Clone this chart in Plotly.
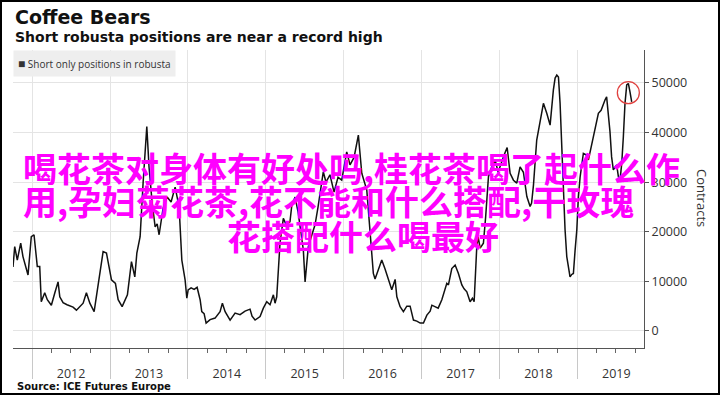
import plotly.graph_objects as go
from datetime import datetime

# ---------------- data ----------------
# decimal year of each observation
t_year = [
    2011.756, 2011.778, 2011.811, 2011.855, 2011.884, 2011.949, 2011.991, 2012.026, 2012.068, 2012.099,
    2012.119, 2012.163, 2012.196, 2012.248, 2012.291, 2012.334, 2012.356, 2012.398, 2012.449, 2012.488,
    2012.526, 2012.569, 2012.612, 2012.655, 2012.697, 2012.741, 2012.796, 2012.847, 2012.911, 2012.954,
    2013.018, 2013.069, 2013.104, 2013.155, 2013.223, 2013.275, 2013.318, 2013.344, 2013.386, 2013.425,
    2013.472, 2013.501, 2013.540, 2013.579, 2013.605, 2013.630, 2013.656, 2013.682, 2013.733, 2013.784,
    2013.836, 2013.887, 2013.922, 2013.964, 2013.986, 2014.003, 2014.041, 2014.080, 2014.118, 2014.157,
    2014.178, 2014.208, 2014.234, 2014.285, 2014.349, 2014.413, 2014.443, 2014.478, 2014.542, 2014.606,
    2014.670, 2014.734, 2014.798, 2014.824, 2014.863, 2014.927, 2014.969, 2015.013, 2015.055, 2015.098,
    2015.119, 2015.141, 2015.183, 2015.226, 2015.260, 2015.311, 2015.333, 2015.376, 2015.415, 2015.453,
    2015.483, 2015.505, 2015.547, 2015.595, 2015.633, 2015.672, 2015.710, 2015.739, 2015.774, 2015.825,
    2015.877, 2015.928, 2015.976, 2016.005, 2016.040, 2016.082, 2016.134, 2016.189, 2016.233, 2016.297,
    2016.339, 2016.381, 2016.403, 2016.445, 2016.489, 2016.531, 2016.574, 2016.617, 2016.660, 2016.682,
    2016.724, 2016.766, 2016.810, 2016.852, 2016.895, 2016.938, 2016.981, 2017.023, 2017.067, 2017.109,
    2017.131, 2017.173, 2017.212, 2017.259, 2017.323, 2017.344, 2017.387, 2017.430, 2017.472, 2017.516,
    2017.545, 2017.580, 2017.622, 2017.652, 2017.674, 2017.708, 2017.725, 2017.751, 2017.793, 2017.822,
    2017.858, 2017.901, 2017.944, 2017.982, 2018.021, 2018.059, 2018.098, 2018.136, 2018.179, 2018.222,
    2018.264, 2018.307, 2018.351, 2018.393, 2018.412, 2018.436, 2018.478, 2018.521, 2018.564, 2018.607,
    2018.650, 2018.692, 2018.714, 2018.736, 2018.757, 2018.778, 2018.800, 2018.820, 2018.842, 2018.864,
    2018.884, 2018.906, 2018.928, 2018.949, 2018.971, 2018.993, 2019.013, 2019.035, 2019.077, 2019.112,
    2019.142, 2019.176, 2019.206, 2019.228, 2019.270, 2019.305, 2019.334, 2019.356, 2019.376, 2019.397,
    2019.419, 2019.440, 2019.462, 2019.505, 2019.527, 2019.548, 2019.570, 2019.591, 2019.612, 2019.634,
    2019.655, 2019.676, 2019.698,
]
# short only positions in robusta (thousand contracts)
short_k = [
    12.9, 17.0, 14.3, 17.7, 15.0, 11.3, 19.0, 19.4, 13.0, 13.0,
    5.9, 7.7, 6.3, 5.2, 7.6, 9.9, 6.9, 5.7, 5.3, 5.0,
    4.8, 4.2, 4.9, 5.6, 7.7, 5.6, 3.9, 8.9, 16.0, 15.7,
    10.3, 9.6, 6.3, 4.9, 7.3, 14.0, 10.9, 15.7, 19.0, 30.0,
    41.2, 33.0, 26.0, 21.0, 21.6, 19.4, 22.4, 24.8, 27.0, 26.0,
    29.0, 25.0, 14.3, 10.3, 6.6, 8.3, 8.7, 8.4, 8.8, 6.3,
    3.9, 3.5, 1.6, 2.3, 2.6, 3.9, 5.6, 3.9, 2.2, 3.6,
    3.3, 4.0, 4.4, 3.0, 2.2, 2.9, 4.6, 5.9, 5.3, 7.3,
    5.6, 6.9, 17.7, 22.7, 21.5, 22.0, 25.1, 27.0, 24.0, 19.0,
    16.3, 9.9, 17.0, 19.5, 21.4, 25.0, 29.0, 32.1, 30.0, 31.5,
    28.0, 31.0, 30.4, 33.0, 36.1, 33.5, 35.0, 39.5, 31.8, 28.4,
    19.7, 11.6, 10.5, 12.3, 14.3, 12.5, 10.3, 8.3, 10.4, 6.9,
    4.9, 3.9, 5.0, 5.0, 2.2, 2.0, 1.6, 1.6, 3.2, 4.0,
    5.2, 4.9, 4.6, 6.3, 9.6, 9.3, 12.6, 13.3, 11.6, 9.3,
    8.5, 7.9, 5.9, 6.6, 5.9, 17.0, 19.0, 16.7, 17.7, 23.0,
    31.1, 33.1, 34.5, 32.0, 34.0, 35.5, 37.0, 31.8, 30.4, 29.8,
    33.1, 32.0, 27.1, 25.1, 25.8, 29.4, 38.5, 42.5, 45.9, 43.9,
    41.5, 48.6, 51.0, 51.6, 51.2, 45.9, 35.8, 27.1, 20.4, 15.0,
    13.0, 10.9, 11.4, 11.6, 16.3, 20.4, 27.0, 31.0, 35.8, 35.5,
    34.5, 37.0, 39.2, 40.5, 43.9, 44.5, 45.9, 46.6, 47.2, 43.9,
    40.2, 35.1, 32.5, 33.5, 31.1, 30.4, 33.8, 39.2, 45.9, 49.6,
    49.9, 48.2, 46.2,
]

title = "Coffee Bears"
subtitle = "Short robusta positions are near a record high"
series_name = "Short only positions in robusta"
source = "Source: ICE Futures Europe"
y_title = "Contracts"
overlay_lines = [
    "喝花茶对身体有好处吗,桂花茶喝了起什么作",
    "用,孕妇菊花茶,花不能和什么搭配,干玫瑰",
    "花搭配什么喝最好",
]

# ---------------- helpers ----------------
def dy(t):
    y = int(t)
    a, b = datetime(y, 1, 1), datetime(y + 1, 1, 1)
    return a + (b - a) * (t - y)

dates = [dy(t) for t in t_year]
values = [v * 1000 for v in short_k]

W, H = 720, 395
L, R, T, B = 13, 76, 50, 47
PW, PH = W - L - R, H - T - B

def px(x):
    return (x - L) / PW

def py(y):
    return (H - B - y) / PH

# highlight circle around the latest peak
last_year = [i for i, t in enumerate(t_year) if t >= 2019.5]
ipk = max(last_year, key=lambda i: values[i])
circle_y = (values[ipk] + values[-1]) / 2

fig = go.Figure()
fig.add_trace(go.Scatter(
    x=dates, y=values, mode="lines",
    line=dict(color="#111111", width=1.5),
    showlegend=False, hoverinfo="skip",
))
fig.add_trace(go.Scatter(
    x=[dates[ipk]], y=[circle_y], mode="markers",
    marker=dict(symbol="circle-open", size=22, color="#e0413f", line=dict(width=1.3, color="#e0413f")),
    showlegend=False, hoverinfo="skip",
))

fig.update_layout(
    width=W, height=H,
    margin=dict(l=L, r=R, t=T, b=B),
    paper_bgcolor="white", plot_bgcolor="white",
    font=dict(family="Open Sans", color="#333333"),
    showlegend=False,
)
fig.update_xaxes(
    type="date",
    range=[dy(2011.756), dy(2019.856)],
    showgrid=True, gridcolor="#e4e4e4", gridwidth=1,
    tick0="2012-01-01", dtick="M12",
    ticks="outside", ticklen=30, tickcolor="#c8c8c8", tickwidth=1,
    tickformat="%Y", ticklabelmode="period", ticklabelstandoff=-16,
    tickfont=dict(size=12.5, color="#333333"),
    showline=True, linecolor="#555555", linewidth=1,
    minor=dict(dtick="M3", ticks="outside", ticklen=4, tickcolor="#666666", showgrid=False),
    zeroline=False,
)
fig.update_yaxes(
    side="right",
    range=[-3430, 56650],
    tick0=0, dtick=10000, tickformat="d",
    showgrid=True, gridcolor="#e4e4e4", gridwidth=1,
    ticks="outside", ticklen=4, tickcolor="#555555",
    tickfont=dict(size=12.5, color="#333333"),
    showline=True, linecolor="#555555", linewidth=1,
    zeroline=False,
)

ann = []
ann.append(dict(text="<b>" + title + "</b>", x=px(13), y=py(17), xref="paper", yref="paper",
                xanchor="left", yanchor="middle", showarrow=False,
                font=dict(family="DejaVu Sans", size=19, color="#111111")))
ann.append(dict(text="<b>" + subtitle + "</b>", x=px(13), y=py(37), xref="paper", yref="paper",
                xanchor="left", yanchor="middle", showarrow=False,
                font=dict(family="DejaVu Sans", size=14, color="#111111")))
ann.append(dict(text="<span style='font-size:12px'>■</span> " + series_name, x=px(13), y=py(50),
                xref="paper", yref="paper", xanchor="left", yanchor="top", showarrow=False,
                bgcolor="#eeeeee", borderpad=4,
                font=dict(family="Open Sans", size=10, color="#333333")))
ann.append(dict(text="<b>" + source + "</b>", x=px(15), y=py(386), xref="paper", yref="paper",
                xanchor="left", yanchor="middle", showarrow=False,
                font=dict(family="DejaVu Sans", size=10, color="#111111")))
ann.append(dict(text=y_title, x=px(702), y=py(198), xref="paper", yref="paper",
                xanchor="center", yanchor="middle", showarrow=False, textangle=90,
                font=dict(family="Open Sans", size=13, color="#333333")))
line_pos = [(21, 167), (21, 200), (225, 235)]
for txt, (lx, ly) in zip(overlay_lines, line_pos):
    ann.append(dict(text="<b>" + txt + "</b>", x=px(lx), y=py(ly), xref="paper", yref="paper",
                    xanchor="left", yanchor="middle", showarrow=False,
                    font=dict(family="Noto Sans CJK SC", size=34, color="#ff00ff")))
fig.update_layout(annotations=ann)

# outer frame of the picture
fig.add_shape(type="rect", xref="paper", yref="paper",
              x0=px(1), x1=px(719), y0=py(394), y1=py(1),
              line=dict(color="#000000", width=2), fillcolor="rgba(0,0,0,0)", layer="above")

fig.write_html("out.html")
